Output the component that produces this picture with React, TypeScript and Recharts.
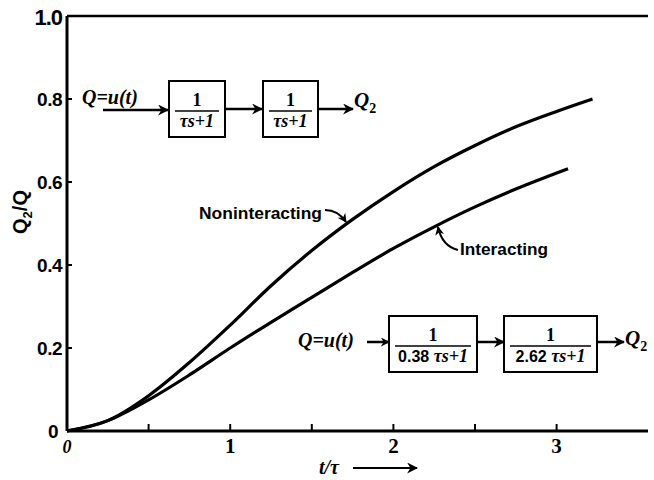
import React from "react";
import { LineChart, Line, XAxis, YAxis, ReferenceLine } from "recharts";

// Values
const nonX = [0, 0.25, 0.5, 0.75, 1.0, 1.25, 1.5, 1.75, 2.0, 2.25, 2.5, 2.75, 3.0, 3.22];
const nonY = [0, 0.025, 0.085, 0.165, 0.255, 0.35, 0.435, 0.51, 0.577, 0.637, 0.688, 0.733, 0.77, 0.8];
const intX = [0, 0.25, 0.5, 0.75, 1.0, 1.25, 1.5, 1.75, 2.0, 2.25, 2.5, 2.75, 3.07];
const intY = [0, 0.025, 0.075, 0.135, 0.2, 0.262, 0.322, 0.382, 0.44, 0.492, 0.54, 0.583, 0.632];
const xTicks = [0, 0.5, 1, 1.5, 2, 2.5, 3];
const xTickLabels = ["0", "", "1", "", "2", "", "3"];
const yTicks = [0, 0.2, 0.4, 0.6, 0.8, 1.0];
const yTickLabels = ["0", "0.2", "0.4", "0.6", "0.8", "1.0"];

const nonData = nonX.map((x, i) => ({ x, y: nonY[i] }));
const intData = intX.map((x, i) => ({ x, y: intY[i] }));

const SERIF = "'Liberation Serif', 'DejaVu Serif', serif";
const SANS = "'Liberation Sans', Arial, sans-serif";

const XTick = (props: any) => {
  const { x, y, payload } = props;
  const idx = xTicks.indexOf(payload.value);
  const label = idx >= 0 ? xTickLabels[idx] : "";
  if (!label) return null;
  const isZero = payload.value === 0;
  return (
    <text
      x={x}
      y={y + 22}
      textAnchor="middle"
      fontFamily={SERIF}
      fontWeight="bold"
      fontStyle={isZero ? "italic" : "normal"}
      fontSize={isZero ? 18 : 21}
      fill="#000"
    >
      {label}
    </text>
  );
};

const YTick = (props: any) => {
  const { x, y, payload } = props;
  const idx = yTicks.indexOf(payload.value);
  const label = idx >= 0 ? yTickLabels[idx] : "";
  const isTop = payload.value === 1;
  const isZero = payload.value === 0;
  return (
    <text
      x={isZero ? x - 4 : x}
      y={y + (isTop ? 9 : 7)}
      textAnchor="end"
      fontFamily={SANS}
      fontWeight="bold"
      fontSize={isTop ? 22 : 19}
      fill="#000"
      style={{ letterSpacing: isTop ? -1 : -0.5 }}
    >
      {label}
    </text>
  );
};

const Box = ({ x, y, w, h, top, bottom, bottomSans }: any) => (
  <g>
    <rect x={x} y={y} width={w} height={h} fill="#fff" stroke="#000" strokeWidth={2} />
    <text x={x + w / 2} y={y + 25} textAnchor="middle" fontFamily={SERIF} fontWeight="bold" fontSize={18} fill="#000">
      {top}
    </text>
    <line x1={x + 6} x2={x + w - 6} y1={y + 30} y2={y + 30} stroke="#000" strokeWidth={1.5} />
    <text x={x + w / 2} y={y + h - 10} textAnchor="middle" fontFamily={SERIF} fontWeight="bold" fontSize={18} fill="#000">
      {bottomSans ? (
        <>
          <tspan fontFamily={SANS} fontSize={16}>{bottomSans + " "}</tspan>
          <tspan fontStyle="italic">{"\u03c4s+1"}</tspan>
        </>
      ) : (
        <tspan fontStyle="italic">{bottom}</tspan>
      )}
    </text>
  </g>
);

export default function App() {
  return (
    <div style={{ position: "absolute", left: 0, top: 0, width: 654, height: 480, background: "#fff" }}>
      <LineChart
        width={654}
        height={480}
        margin={{ top: 16, right: 6, bottom: 19, left: 0 }}
        style={{ position: "absolute", left: 0, top: 0 }}
      >
        <XAxis
          dataKey="x"
          type="number"
          domain={[0, 3.56]}
          ticks={xTicks}
          interval={0}
          allowDataOverflow
          height={30}
          stroke="#000"
          axisLine={{ stroke: "#000", strokeWidth: 3 }}
          tickLine={{ stroke: "#000", strokeWidth: 2 }}
          tickSize={-7}
          tickMargin={7}
          tick={<XTick />}
        />
        <YAxis
          dataKey="y"
          type="number"
          domain={[0, 1]}
          ticks={yTicks}
          interval={0}
          width={67}
          stroke="#000"
          axisLine={{ stroke: "#000", strokeWidth: 3 }}
          tickLine={{ stroke: "#000", strokeWidth: 2 }}
          tickSize={-5}
          tickMargin={10}
          tick={<YTick />}
        />
        <ReferenceLine y={1} stroke="#000" strokeWidth={2.5} ifOverflow="visible" />
        <Line
          data={nonData}
          dataKey="y"
          type="monotone"
          stroke="#000"
          strokeWidth={3.2}
          dot={false}
          activeDot={false}
          isAnimationActive={false}
        />
        <Line
          data={intData}
          dataKey="y"
          type="monotone"
          stroke="#000"
          strokeWidth={3.2}
          dot={false}
          activeDot={false}
          isAnimationActive={false}
        />
      </LineChart>
      <svg
        width={654}
        height={480}
        style={{ position: "absolute", left: 0, top: 0, pointerEvents: "none" }}
      >
        <defs>
          <marker id="ah" viewBox="0 0 10 10" refX="9" refY="5" markerWidth="11" markerHeight="11" markerUnits="userSpaceOnUse" orient="auto">
            <path d="M0,0 L10,5 L0,10 L3,5 Z" fill="#000" />
          </marker>
          <marker id="ah2" viewBox="0 0 10 10" refX="9" refY="5" markerWidth="9" markerHeight="9" markerUnits="userSpaceOnUse" orient="auto">
            <path d="M0,0 L10,5 L0,10 L3,5 Z" fill="#000" />
          </marker>
        </defs>

        {/* Y axis title */}
        <text
          x={27}
          y={212}
          transform="rotate(-90 27 212)"
          textAnchor="middle"
          fontFamily={SANS}
          fontWeight="bold"
          fontSize={20}
          fill="#000"
        >
          Q<tspan fontSize={13} dy={5}>2</tspan>
          <tspan dy={-5}>/Q</tspan>
        </text>

        {/* X axis title */}
        <text x={319} y={474} fontFamily={SERIF} fontWeight="bold" fontStyle="italic" fontSize={20} fill="#000">
          {"t/\u03c4"}
        </text>
        <line x1={353} x2={417} y1={468} y2={468} stroke="#000" strokeWidth={2} markerEnd="url(#ah)" />

        {/* Top block diagram */}
        <text x={82} y={104} fontFamily={SERIF} fontWeight="bold" fontStyle="italic" fontSize={20} fill="#000">
          Q=u(t)
        </text>
        <line x1={103} x2={168} y1={110} y2={110} stroke="#000" strokeWidth={2.5} markerEnd="url(#ah)" />
        <Box x={169} y={81} w={56} h={56} top="1" bottom={"\u03c4s+1"} />
        <line x1={225} x2={262} y1={109} y2={109} stroke="#000" strokeWidth={2.5} markerEnd="url(#ah)" />
        <Box x={263} y={81} w={55} h={56} top="1" bottom={"\u03c4s+1"} />
        <line x1={318} x2={353} y1={109} y2={109} stroke="#000" strokeWidth={2.5} markerEnd="url(#ah)" />
        <text x={354} y={107} fontFamily={SERIF} fontWeight="bold" fontStyle="italic" fontSize={21} fill="#000">
          Q<tspan fontSize={14} fontStyle="normal" dy={6}>2</tspan>
        </text>

        {/* Bottom block diagram */}
        <text x={298} y={347} fontFamily={SERIF} fontWeight="bold" fontStyle="italic" fontSize={20} fill="#000">
          Q=u(t)
        </text>
        <line x1={367} x2={389} y1={342} y2={342} stroke="#000" strokeWidth={2.5} markerEnd="url(#ah2)" />
        <Box x={389} y={316} w={88} h={56} top="1" bottomSans="0.38" />
        <line x1={477} x2={504} y1={342} y2={342} stroke="#000" strokeWidth={2.5} markerEnd="url(#ah)" />
        <Box x={504} y={316} w={93} h={56} top="1" bottomSans="2.62" />
        <line x1={597} x2={624} y1={342} y2={342} stroke="#000" strokeWidth={2.5} markerEnd="url(#ah)" />
        <text x={625} y={345} fontFamily={SERIF} fontWeight="bold" fontStyle="italic" fontSize={21} fill="#000">
          Q<tspan fontSize={14} fontStyle="normal" dy={6}>2</tspan>
        </text>

        {/* Curve labels */}
        <text x={199} y={219} fontFamily={SANS} fontWeight="bold" fontSize={17} fill="#000" textLength={123} lengthAdjust="spacingAndGlyphs">
          Noninteracting
        </text>
        <path d="M325,210 Q338,210 346,222" fill="none" stroke="#000" strokeWidth={2} markerEnd="url(#ah2)" />
        <text x={460} y={255} fontFamily={SANS} fontWeight="bold" fontSize={17} fill="#000" textLength={88} lengthAdjust="spacingAndGlyphs">
          Interacting
        </text>
        <path d="M458,250 Q442,246 438,227" fill="none" stroke="#000" strokeWidth={2} markerEnd="url(#ah2)" />
      </svg>
    </div>
  );
}
